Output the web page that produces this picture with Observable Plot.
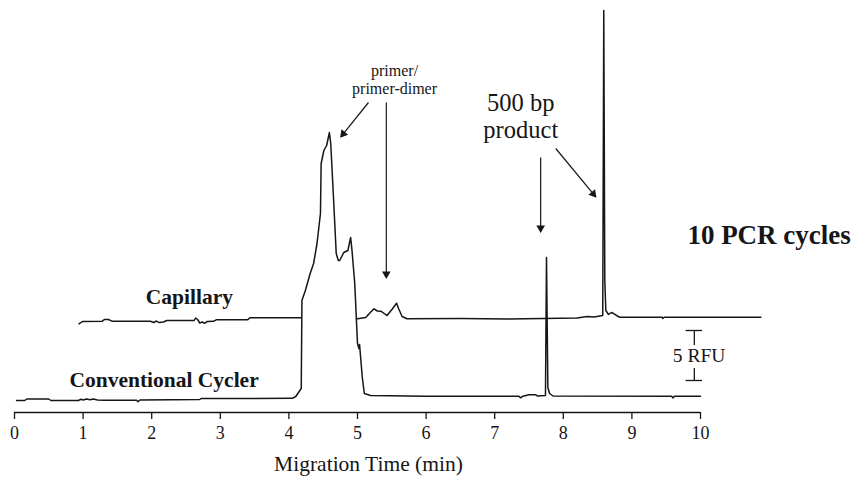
<!DOCTYPE html>
<html><head><meta charset="utf-8">
<script src="https://cdn.jsdelivr.net/npm/d3@7"></script>
<script src="https://cdn.jsdelivr.net/npm/@observablehq/plot@0.6"></script>
<style>body{margin:0;background:#fff} svg text{font-family:'Liberation Serif','Times New Roman',Tinos,serif !important}</style>
</head><body><div id="chart"></div>
<script>
// ---- data (migration time in min, signal in RFU as plotted) ----
const xTicks = [0, 1, 2, 3, 4, 5, 6, 7, 8, 9, 10];
const axisTitle = "Migration Time (min)";

const conventional = [
  [0.03,0.0],[0.15,0.0],[0.18,0.15],[0.5,0.15],[0.53,0.0],[0.93,0.0],[0.97,0.12],[1.0,0.05],
  [1.05,0.15],[1.1,0.08],[1.15,0.15],[1.21,0.05],[1.3,0.02],[1.78,0.02],[1.8,-0.12],[1.83,0.05],
  [2.7,0.1],[2.72,0.2],[4.05,0.22],[4.1,0.4],[4.15,0.9],[4.18,1.2],[4.19,10.0],[4.24,11.0],
  [4.31,12.7],[4.36,13.7],[4.41,15.7],[4.46,18.7],[4.47,23.7],[4.51,25.0],[4.55,25.5],[4.59,26.8],
  [4.61,25.7],[4.65,20.3],[4.69,14.7],[4.72,14.0],[4.74,14.0],[4.8,14.8],[4.86,15.0],[4.9,16.3],
  [4.92,15.0],[4.96,11.7],[5.0,5.7],[5.02,5.2],[5.03,5.6],[5.07,2.3],[5.1,0.7],[5.19,0.5],
  [6.0,0.43],[7.35,0.43],[7.38,0.27],[7.41,0.43],[7.5,0.57],[7.6,0.57],[7.62,0.45],[7.74,0.5],
  [7.755,14.3],[7.775,1.3],[7.8,0.7],[7.85,0.45],[9.58,0.43],[9.6,0.25],[9.62,0.43],[10.0,0.43]
];

const capillary = [
  [0.94,7.67],[0.99,7.9],[1.28,7.93],[1.31,8.1],[1.37,8.1],[1.42,7.93],[1.98,7.93],[2.03,7.8],
  [2.07,7.95],[2.1,7.8],[2.17,7.85],[2.22,8.0],[2.62,8.0],[2.64,8.25],[2.67,8.1],[2.7,7.75],
  [2.74,7.85],[2.77,7.72],[2.81,7.9],[2.9,7.92],[2.94,8.07],[3.4,8.07],[3.43,8.27],[4.2,8.27],
  [4.6,8.27],[5.0,8.17],[5.12,8.3],[5.19,8.83],[5.24,9.17],[5.29,8.95],[5.34,8.93],[5.43,8.5],
  [5.51,9.17],[5.57,9.73],[5.6,9.17],[5.65,8.4],[5.72,8.17],[6.5,8.2],[7.2,8.15],[7.7,8.2],
  [8.2,8.25],[8.35,8.4],[8.45,8.35],[8.53,8.45],[8.575,8.5],[8.59,39.0],[8.605,12.0],[8.62,9.0],
  [8.66,8.6],[8.7,8.8],[8.74,8.67],[8.8,8.4],[8.83,8.33],[9.44,8.33],[9.45,8.2],[9.47,8.33],[10.88,8.33]
];

const traceLabels = [
  {text: "Capillary", x: 2.55, y: 9.67},
  {text: "Conventional Cycler", x: 2.18, y: 1.4}
];
const titleLabel = {text: "10 PCR cycles", x: 11.0, y: 15.7};
const noteLabels = [
  {text: "primer/\nprimer-dimer", x: 5.54, y: 30.7, size: 16},
  {text: "500 bp\nproduct", x: 7.38, y: 26.3, size: 24.5}
];
const arrows = [
  {x1: 5.16, y1: 29.8, x2: 4.75, y2: 26.3},
  {x1: 5.42, y1: 29.8, x2: 5.42, y2: 12.2},
  {x1: 7.67, y1: 24.3, x2: 7.67, y2: 16.8},
  {x1: 7.89, y1: 25.2, x2: 8.48, y2: 20.3}
];
const scaleBar = {x: 9.91, y1: 2.0, y2: 7.0, label: "5 RFU", gapLow: 3.2, gapHigh: 5.5};

// ---- layout ----
const W = 854, H = 484, mL = 14, mR = 154, mT = 0, mB = 72;
const xDomain = [0, 10], yDomain = [-1.2, 40];
const kx = (W - mL - mR) / (xDomain[1] - xDomain[0]);
const ky = (H - mT - mB) / (yDomain[1] - yDomain[0]);
const ink = "#161616";
const serif = "'Liberation Serif', 'Times New Roman', Tinos, serif";

// arrowheads: triangle centroid sits behind the tip
const headBack = 4.6;
const heads = arrows.map(a => {
  const dx = (a.x2 - a.x1) * kx, dy = -(a.y2 - a.y1) * ky;
  const len = Math.hypot(dx, dy);
  const ux = dx / len, uy = dy / len;
  return {
    x: a.x2 - ux * headBack / kx,
    y: a.y2 + uy * headBack / ky,
    angle: Math.atan2(dx, -dy) * 180 / Math.PI
  };
});
const shafts = arrows.map(a => {
  const dx = (a.x2 - a.x1) * kx, dy = -(a.y2 - a.y1) * ky;
  const len = Math.hypot(dx, dy);
  return {x1: a.x1, y1: a.y1, x2: a.x2 - (dx / len) * 3 / kx, y2: a.y2 + (dy / len) * 3 / ky};
});
const capW = 0.12;

const chart = Plot.plot({
  width: W, height: H,
  marginLeft: mL, marginRight: mR, marginTop: mT, marginBottom: mB,
  x: {domain: xDomain},
  y: {domain: yDomain, axis: null},
  style: {fontFamily: serif, color: ink, background: "white"},
  marks: [
    Plot.ruleY([yDomain[0]], {x1: () => xDomain[0], x2: () => xDomain[1], stroke: ink, strokeWidth: 1.6}),
    Plot.axisX({ticks: xTicks, tickFormat: d => String(d), tickSize: 7, tickPadding: 7,
      fontSize: 18, label: null, stroke: ink, strokeWidth: 1.3}),
    Plot.text([axisTitle], {x: () => 5.16, frameAnchor: "bottom", dy: 58, fontSize: 21.5, fill: ink}),
    Plot.line(capillary, {x: d => d[0], y: d => d[1], stroke: ink, strokeWidth: 1.5}),
    Plot.areaY(conventional.filter(d => d[0] < 6), {x: d => d[0], y1: () => 0, y2: d => d[1], fill: "white"}),
    Plot.line(conventional, {x: d => d[0], y: d => d[1], stroke: ink, strokeWidth: 1.5}),
    // scale bar
    Plot.ruleX([scaleBar], {x: "x", y1: "y1", y2: "gapLow", stroke: ink, strokeWidth: 1.3}),
    Plot.ruleX([scaleBar], {x: "x", y1: "gapHigh", y2: "y2", stroke: ink, strokeWidth: 1.3}),
    Plot.ruleY([scaleBar.y1, scaleBar.y2], {x1: () => scaleBar.x - capW, x2: () => scaleBar.x + capW, stroke: ink, strokeWidth: 1.3}),
    Plot.text([scaleBar], {x: d => d.x + 0.07, y: d => (d.y1 + d.y2) / 2, text: "label", fontSize: 19.5, fill: ink, lineAnchor: "middle"}),
    // arrows
    Plot.link(shafts, {x1: "x1", y1: "y1", x2: "x2", y2: "y2", stroke: ink, strokeWidth: 1.2}),
    Plot.dot(heads, {x: "x", y: "y", symbol: "triangle", r: 3.2, rotate: "angle", fill: ink, stroke: "none"}),
    // labels
    Plot.text(traceLabels, {x: "x", y: "y", text: "text", fontSize: 21.5, fontWeight: "bold", fill: ink, lineAnchor: "bottom"}),
    Plot.text([titleLabel], {x: "x", y: "y", text: "text", fontSize: 27, fontWeight: "bold", fill: ink, lineAnchor: "bottom"}),
    Plot.text(noteLabels, {x: "x", y: "y", text: "text", fontSize: d => d.size, fill: ink, lineAnchor: "bottom", lineHeight: 1.08})
  ]
});
document.getElementById("chart").appendChild(chart);
</script>
</body></html>
